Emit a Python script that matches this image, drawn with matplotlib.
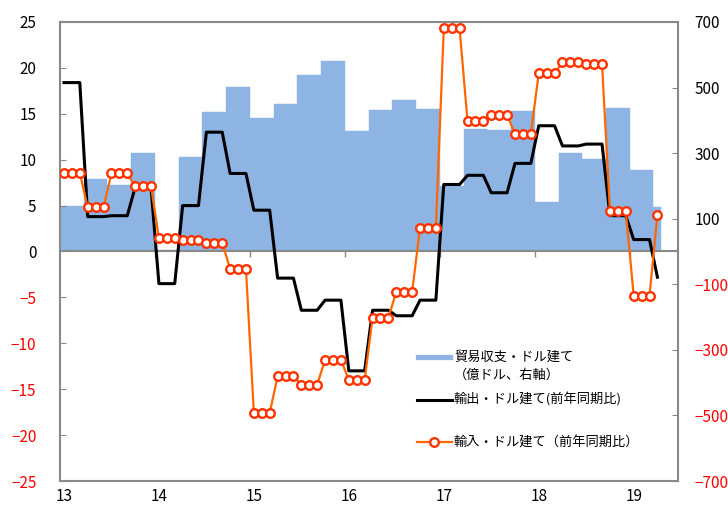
import numpy as np
import matplotlib
matplotlib.use('Agg')
import matplotlib.pyplot as plt
from matplotlib.lines import Line2D

plt.rcParams['font.family'] = ['Noto Sans CJK JP', 'DejaVu Sans']

# === Data (quarterly, 2013Q1 .. 2019Q1, then April 2019) ===
year_labels = ['13', '14', '15', '16', '17', '18', '19']
period_months = [3] * 25 + [1]

# trade balance, USD basis (100 mn USD, right axis)
balance = [138, 220, 203, 300, 5, 288, 427, 501, 408, 450, 537, 582, 367,
           432, 461, 435, 200, 375, 372, 430, 150, 301, 281, 438, 250, 135]
# exports, USD basis (yoy %)
export_yoy = [18.4, 3.8, 3.9, 7.0, -3.5, 5.0, 13.0, 8.5, 4.5, -2.9, -6.4, -5.3,
              -13.0, -6.4, -7.0, -5.3, 7.3, 8.3, 6.4, 9.6, 13.7, 11.5, 11.7,
              3.9, 1.3, -2.8]
# imports, USD basis (yoy %)
import_yoy = [8.6, 4.8, 8.5, 7.1, 1.5, 1.25, 0.95, -1.9, -17.6, -13.6, -14.5,
              -11.8, -14.0, -7.2, -4.4, 2.6, 24.3, 14.2, 14.9, 12.8, 19.4, 20.6,
              20.4, 4.4, -4.8, 4.0]

bal_m = np.repeat(balance, period_months)
exp_m = np.repeat(export_yoy, period_months)
imp_m = np.repeat(import_yoy, period_months)
months = np.arange(len(bal_m))

# === Style ===
gray = '#898989'
blue = '#8DB4E2'
orange = '#FF6600'
red_edge = '#FF3300'
neg_red = '#FF0000'
xlim = (-0.5, 77.6)

fig = plt.figure(figsize=(7.28, 5.05), dpi=100)
rect = [60 / 728, 24 / 505, 618 / 728, 459 / 505]
ax = fig.add_axes(rect)    # bars, right axis
ax2 = fig.add_axes(rect)   # lines, left axis
ax2.patch.set_visible(False)

# --- bars ---
ax.bar(months, bal_m, width=1.0, color=blue, edgecolor=blue, linewidth=0.3)
ax.set_xlim(*xlim)
ax.set_ylim(-700, 700)
ax.yaxis.tick_right()
rticks = list(range(700, -701, -200))
ax.set_yticks(rticks, labels=[str(v).replace('-', '−') for v in rticks])
for v, lbl in zip(rticks, ax.get_yticklabels()):
    lbl.set_color(neg_red if v < 0 else 'black')
ax.set_xticks(np.arange(0, 73, 12), labels=year_labels)
ax.tick_params(axis='x', length=0, pad=5, labelsize=11)
ax.tick_params(axis='y', direction='in', length=4, color=gray, pad=12, labelsize=11)
for s in ax.spines.values():
    s.set_color(gray)
    s.set_linewidth(1.5)

# --- lines ---
ax2.plot(months, exp_m, color='black', lw=2.2, zorder=3)
ax2.plot(months, imp_m, color=orange, lw=1.6, marker='o', ms=6.2,
         mfc='white', mec=red_edge, mew=1.7, zorder=4)
ax2.set_xlim(*xlim)
ax2.set_ylim(-25, 25)
lticks = list(range(25, -26, -5))
ax2.set_yticks(lticks, labels=[str(v).replace('-', '−') for v in lticks])
for v, lbl in zip(lticks, ax2.get_yticklabels()):
    lbl.set_color(neg_red if v < 0 else 'black')
ax2.tick_params(axis='y', direction='in', length=4, color=gray, pad=17, labelsize=11)
ax2.spines['bottom'].set_position(('data', 0))
ax2.spines['bottom'].set_color(gray)
ax2.spines['bottom'].set_linewidth(1.5)
ax2.spines['bottom'].set_zorder(2.5)
for k in ['top', 'right', 'left']:
    ax2.spines[k].set_visible(False)
ax2.set_xticks(np.arange(11.5, 72, 12), labels=[''] * 6)
ax2.tick_params(axis='x', direction='out', length=4, color=gray, width=1)

# --- legend ---
fx = lambda px: (px - 60) / 618
fy = lambda py: (481 - py) / 459
tr = ax2.transAxes
ax2.add_line(Line2D([fx(418), fx(450)], [fy(357)] * 2, lw=3.8, color=blue, transform=tr))
ax2.add_line(Line2D([fx(417), fx(452)], [fy(400)] * 2, lw=2.2, color='black', transform=tr))
ax2.add_line(Line2D([fx(417), fx(452)], [fy(442)] * 2, lw=1.6, color=orange, transform=tr))
ax2.add_line(Line2D([fx(434)], [fy(442)], marker='o', ms=6.2, mfc='white', mec=red_edge,
                    mew=1.7, transform=tr))
kw = dict(transform=tr, va='center', ha='left', fontsize=9.5)
ax2.text(fx(454), fy(357), '貿易収支・ドル建て', **kw)
ax2.text(fx(454), fy(375), '（億ドル、右軸）', **kw)
ax2.text(fx(454), fy(400), '輸出・ドル建て(前年同期比)', **kw)
ax2.text(fx(454), fy(442), '輸入・ドル建て（前年同期比）', **kw)

fig.savefig('out.png', dpi=100)
